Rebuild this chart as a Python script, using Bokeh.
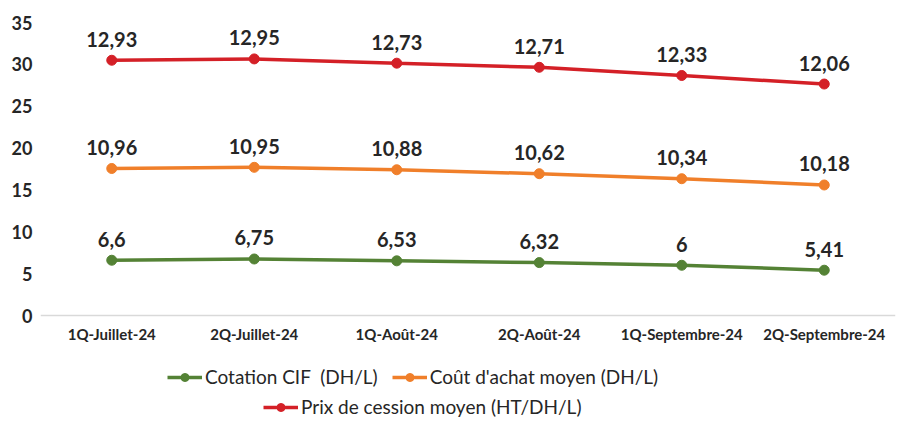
from bokeh.plotting import figure
from bokeh.models import (FactorRange, Range1d, FixedTicker, Legend, LegendItem,
                          ColumnDataSource, Span)
from bokeh.embed import file_html
from bokeh.resources import INLINE
from bokeh.core.properties import value

periods = ["1Q-Juillet-24", "2Q-Juillet-24", "1Q-Août-24", "2Q-Août-24",
           "1Q-Septembre-24", "2Q-Septembre-24"]
cotation_cif = [6.6, 6.75, 6.53, 6.32, 6.0, 5.41]
cout_achat = [10.96, 10.95, 10.88, 10.62, 10.34, 10.18]
prix_cession = [12.93, 12.95, 12.73, 12.71, 12.33, 12.06]
series_names = ["Cotation CIF  (DH/L)", "Coût d'achat moyen (DH/L)",
                "Prix de cession moyen (HT/DH/L)"]
series_colors = ["#548235", "#F07F2A", "#D42027"]
y_ticks = [0, 5, 10, 15, 20, 25, 30, 35]
y_max = 35

FONT = "Lato"
TXT = "#262626"

# plot area: 0..35 spans 293 px; frame extends 108 px below zero to hold
# category labels and the legend
px_per_unit = 293 / y_max
y_min = -108 / px_per_unit

p = figure(width=913, height=423, x_range=FactorRange(*periods, range_padding=0),
           y_range=Range1d(y_min, y_max), output_backend="svg", toolbar_location=None,
           min_border_left=40, min_border_right=18, min_border_top=22,
           min_border_bottom=0)
p.outline_line_color = None
p.grid.visible = False
p.background_fill_color = "white"
p.xaxis.visible = False

# category axis line and labels
p.add_layout(Span(location=0, dimension="width", line_color="#D9D9D9", line_width=1.5))
p.text(x=periods, y=[0] * len(periods), text=periods, text_align="center",
       text_baseline="middle", y_offset=18, text_font=value(FONT),
       text_font_style="bold", text_font_size="15px", text_color=TXT)

# stacked series (Excel stacked line)
stack = [0.0] * len(periods)
renderers = []
for vals, name, col in zip([cotation_cif, cout_achat, prix_cession], series_names, series_colors):
    stack = [s + v for s, v in zip(stack, vals)]
    src = ColumnDataSource(dict(x=periods, y=list(stack),
                                lbl=[f"{v:g}".replace(".", ",") for v in vals]))
    ln = p.line("x", "y", source=src, line_color=col, line_width=3.5)
    sc = p.scatter("x", "y", source=src, size=10, fill_color=col, line_color=col)
    p.text("x", "y", text="lbl", source=src, text_align="center",
           text_baseline="middle", y_offset=-21, text_font=value(FONT),
           text_font_style="bold", text_font_size="20px", text_color=TXT)
    renderers.append((name, [ln, sc]))

# y axis
p.yaxis.ticker = FixedTicker(ticks=y_ticks)
p.yaxis.axis_line_color = None
p.yaxis.major_tick_line_color = None
p.yaxis.minor_tick_line_color = None
p.yaxis.major_label_standoff = 2
p.yaxis.major_label_text_font = FONT
p.yaxis.major_label_text_font_style = "bold"
p.yaxis.major_label_text_font_size = "18px"
p.yaxis.major_label_text_color = TXT


def make_legend(items, loc):
    lg = Legend(items=[LegendItem(label=n, renderers=r) for n, r in items],
                location=loc, orientation="horizontal", padding=5, margin=0,
                spacing=14, glyph_width=35, glyph_height=20, label_height=20,
                label_standoff=3, border_line_alpha=0, background_fill_alpha=0,
                label_text_font=FONT, label_text_font_size="19px",
                label_text_color=TXT)
    return lg

p.add_layout(make_legend(renderers[:2], (122, 30)), "center")
p.add_layout(make_legend(renderers[2:], (218, 0)), "center")

open("out.html", "w").write(file_html(p, INLINE))
